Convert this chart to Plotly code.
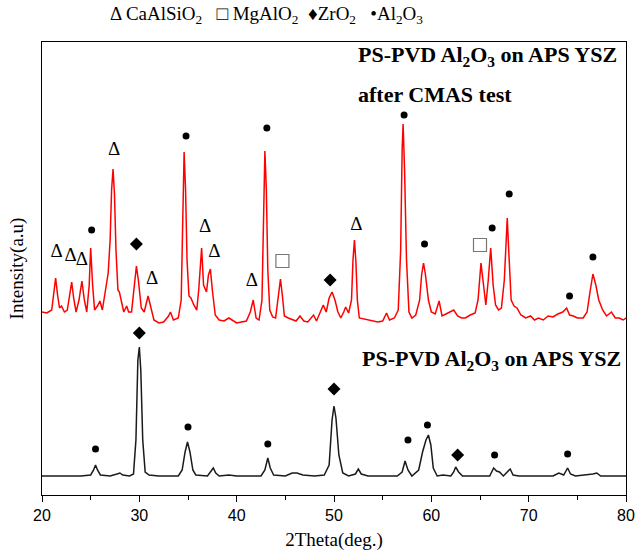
import plotly.graph_objects as go

# ---- data (2theta in degrees, intensity in arbitrary units) ----
red_2theta = [20.0, 20.5, 21.0, 21.2, 21.4, 21.6, 21.8, 22.0, 22.3, 22.6, 22.85, 23.05, 23.25, 23.5, 23.8, 24.1, 24.35, 24.6,
              24.85, 25.0, 25.2, 25.4, 25.7, 25.95, 26.2, 26.5, 26.8, 27.0, 27.15, 27.3, 27.45, 27.6, 27.8, 27.95, 28.1, 28.4,
              28.7, 28.9, 29.2, 29.5, 29.7, 29.9, 30.2, 30.5, 30.9, 31.2, 31.5, 32.0, 32.5, 33.0, 33.2, 33.5, 34.0, 34.3,
              34.45, 34.6, 34.75, 34.9, 35.1, 35.3, 35.6, 35.9, 36.1, 36.4, 36.6, 36.9, 37.1, 37.3, 37.5, 37.8, 38.2, 38.7,
              39.2, 39.5, 40.0, 40.5, 41.0, 41.4, 41.7, 42.0, 42.3, 42.6, 42.75, 42.9, 43.05, 43.2, 43.4, 43.7, 44.0, 44.3,
              44.5, 44.7, 44.9, 45.3, 45.8, 46.1, 46.5, 46.9, 47.3, 47.9, 48.2, 48.6, 48.9, 49.2, 49.5, 49.8, 50.1, 50.4,
              50.7, 51.0, 51.2, 51.5, 51.8, 51.95, 52.1, 52.25, 52.4, 52.6, 53.0, 53.5, 54.0, 54.5, 55.0, 55.4, 55.7, 56.2,
              56.6, 56.85, 57.0, 57.1, 57.25, 57.45, 57.7, 58.0, 58.4, 58.8, 59.0, 59.2, 59.4, 59.7, 60.0, 60.4, 60.8, 61.1,
              61.5, 62.0, 62.3, 62.7, 63.1, 63.5, 64.0, 64.5, 64.8, 65.1, 65.4, 65.6, 65.85, 66.1, 66.35, 66.6, 66.9, 67.2,
              67.5, 67.7, 67.8, 67.95, 68.2, 68.5, 68.8, 69.2, 69.7, 70.2, 70.6, 71.0, 71.5, 72.0, 72.5, 73.0, 73.5, 73.9,
              74.2, 74.6, 75.0, 75.6, 76.0, 76.3, 76.6, 76.9, 77.2, 77.6, 78.0, 78.5, 78.9, 79.3, 79.7, 80.0]
red_intensity = [183, 182, 185, 200, 217, 200, 187, 189, 183, 185, 200, 213, 197, 183, 195, 214, 195, 183,
                 210, 247, 210, 185, 189, 194, 185, 205, 222, 255, 305, 326, 300, 245, 205, 203, 195, 183,
                 189, 183, 183, 210, 229, 215, 187, 183, 199, 187, 175, 172, 173, 179, 183, 175, 177, 195,
                 275, 343, 305, 235, 199, 197, 190, 185, 205, 247, 210, 203, 220, 226, 205, 180, 175, 174,
                 177, 175, 172, 173, 174, 183, 195, 177, 175, 195, 275, 344, 305, 225, 185, 178, 177, 200,
                 216, 199, 179, 177, 175, 174, 179, 174, 173, 180, 174, 183, 190, 183, 197, 203, 195, 183,
                 177, 183, 188, 182, 195, 235, 255, 233, 195, 177, 176, 175, 174, 173, 174, 182, 175, 177,
                 185, 245, 345, 371, 325, 235, 183, 177, 180, 195, 220, 232, 220, 195, 183, 181, 194, 179,
                 181, 183, 185, 179, 177, 177, 180, 182, 195, 232, 205, 190, 215, 247, 210, 190, 185, 187,
                 215, 265, 277, 245, 195, 189, 187, 180, 177, 179, 175, 177, 175, 179, 178, 181, 183, 187,
                 180, 179, 177, 177, 183, 203, 221, 210, 195, 185, 179, 183, 177, 177, 175, 177]

black_2theta = [20.0, 24.0, 25.0, 25.3, 25.5, 25.7, 26.0, 27.0, 27.7, 28.0, 28.3, 29.0, 29.4, 29.65, 29.85, 30.0, 30.15,
                30.35, 30.6, 31.0, 32.0, 34.0, 34.4, 34.7, 34.95, 35.2, 35.5, 35.8, 37.0, 37.4, 37.6, 37.85, 38.2,
                39.2, 40.0, 42.5, 42.9, 43.2, 43.45, 43.8, 45.0, 45.7, 46.2, 46.8, 48.0, 49.0, 49.5, 49.8, 50.0,
                50.2, 50.5, 50.9, 51.5, 52.2, 52.5, 52.8, 53.5, 56.5, 57.0, 57.3, 57.6, 58.0, 58.7, 59.1, 59.45,
                59.7, 59.95, 60.2, 60.6, 61.2, 62.0, 62.3, 62.5, 62.8, 63.2, 66.0, 66.4, 66.7, 67.0, 67.4, 67.8,
                68.1, 68.4, 69.0, 72.5, 73.1, 73.6, 74.0, 74.3, 74.8, 76.6, 77.0, 77.4, 80.0]
black_intensity = [19, 19, 20, 25, 30, 25, 20, 19, 21, 22, 20, 19, 21, 55, 135, 148, 125,
                   55, 23, 20, 19, 19, 25, 43, 53, 43, 25, 20, 19, 24, 27, 22, 19,
                   20, 19, 19, 25, 37, 27, 20, 19, 22, 22, 20, 19, 20, 30, 75, 89,
                   77, 40, 22, 19, 21, 26, 21, 19, 19, 23, 34, 25, 19, 25, 43, 55,
                   60, 50, 27, 19, 20, 19, 23, 28, 23, 19, 19, 27, 24, 23, 19, 23,
                   26, 20, 19, 19, 22, 20, 27, 21, 19, 21, 22, 19, 19]

# phase labels (position of marker symbol)
caalsio2_x = [21.5, 22.95, 24.1, 27.4, 31.3, 36.75, 37.7, 41.55, 52.3]
caalsio2_y = [243, 239, 235, 345, 216, 268, 243, 214, 270]
mgalo2_x = [44.7, 65.0]
mgalo2_y = [234, 250]
zro2_x = [29.7, 49.6, 30.0, 50.0, 62.7]
zro2_y = [251, 215, 162, 106, 40]
al2o3_x = [25.1, 34.8, 43.1, 57.2, 59.3, 66.25, 68.0, 74.2, 76.6, 25.5, 35.0, 43.2, 57.6, 59.6, 66.5, 74.0]
al2o3_y = [265, 359, 367, 380, 251, 267, 301, 199, 238, 46, 68, 51, 55, 70, 40, 41]

x_ticks = [20, 30, 40, 50, 60, 70, 80]

SERIF = "Liberation Serif, Times New Roman, serif"
SANS = "Liberation Sans, Arial, sans-serif"

fig = go.Figure()
fig.add_trace(go.Scatter(x=red_2theta, y=red_intensity, mode="lines",
                         line=dict(color="#ff0000", width=1.5), hoverinfo="skip"))
fig.add_trace(go.Scatter(x=black_2theta, y=black_intensity, mode="lines",
                         line=dict(color="#1a1a1a", width=1.5), hoverinfo="skip"))
fig.add_trace(go.Scatter(x=caalsio2_x, y=caalsio2_y, mode="text", text=["Δ"] * len(caalsio2_x),
                         textfont=dict(family=SERIF, size=19, color="black"), textposition="middle center"))
fig.add_trace(go.Scatter(x=mgalo2_x, y=mgalo2_y, mode="markers",
                         marker=dict(symbol="square-open", size=13, color="#777777", line=dict(width=1.2))))
fig.add_trace(go.Scatter(x=zro2_x, y=zro2_y, mode="markers",
                         marker=dict(symbol="diamond", size=10, color="black")))
fig.add_trace(go.Scatter(x=al2o3_x, y=al2o3_y, mode="markers",
                         marker=dict(symbol="circle", size=7, color="black")))

fig.update_layout(
    width=636, height=559,
    margin=dict(l=42, r=10, t=42, b=64),
    paper_bgcolor="white", plot_bgcolor="white",
    showlegend=False,
    xaxis=dict(range=[20, 80], tickvals=x_ticks, ticks="outside", ticklen=6, tickwidth=1.2,
               tickcolor="black", showline=True, linecolor="black", linewidth=1.3, mirror=True,
               showgrid=False, zeroline=False, automargin=False,
               minor=dict(dtick=5, tick0=20, ticks="outside", ticklen=4, tickwidth=1.2, tickcolor="black"),
               tickfont=dict(family=SANS, size=16, color="black"),
               title=dict(text="2Theta(deg.)", font=dict(family=SERIF, size=19, color="black"), standoff=9)),
    yaxis=dict(range=[0, 453], showticklabels=False, ticks="", showline=True, linecolor="black",
               linewidth=1.3, mirror=True, showgrid=False, zeroline=False, automargin=False,
               title=dict(text="Intensity(a.u)", font=dict(family=SERIF, size=19, color="black"), standoff=12)),
)

fig.add_annotation(xref="paper", yref="paper", x=0.385, y=1.0, yshift=27, xanchor="center", yanchor="middle",
                   showarrow=False,
                   text="Δ CaAlSiO<sub>2</sub>   □ MgAlO<sub>2</sub>  ♦ZrO<sub>2</sub>   •Al<sub>2</sub>O<sub>3</sub>",
                   font=dict(family=SERIF, size=19, color="black"))
fig.add_annotation(xref="paper", yref="paper", x=0.538, y=1.0, yshift=-14, xanchor="left", yanchor="middle",
                   showarrow=False, text="<b>PS-PVD Al<sub>2</sub>O<sub>3</sub> on APS YSZ</b>",
                   font=dict(family=SERIF, size=22, color="black"))
fig.add_annotation(xref="paper", yref="paper", x=0.538, y=1.0, yshift=-52, xanchor="left", yanchor="middle",
                   showarrow=False, text="<b>after CMAS test</b>",
                   font=dict(family=SERIF, size=22, color="black"))
fig.add_annotation(xref="paper", yref="paper", x=0.545, y=1.0, yshift=-318, xanchor="left", yanchor="middle",
                   showarrow=False, text="<b>PS-PVD Al<sub>2</sub>O<sub>3</sub> on APS YSZ</b>",
                   font=dict(family=SERIF, size=22, color="black"))

fig.write_html("out.html", config={"displayModeBar": False},
               post_script="document.body.style.margin='0';")
